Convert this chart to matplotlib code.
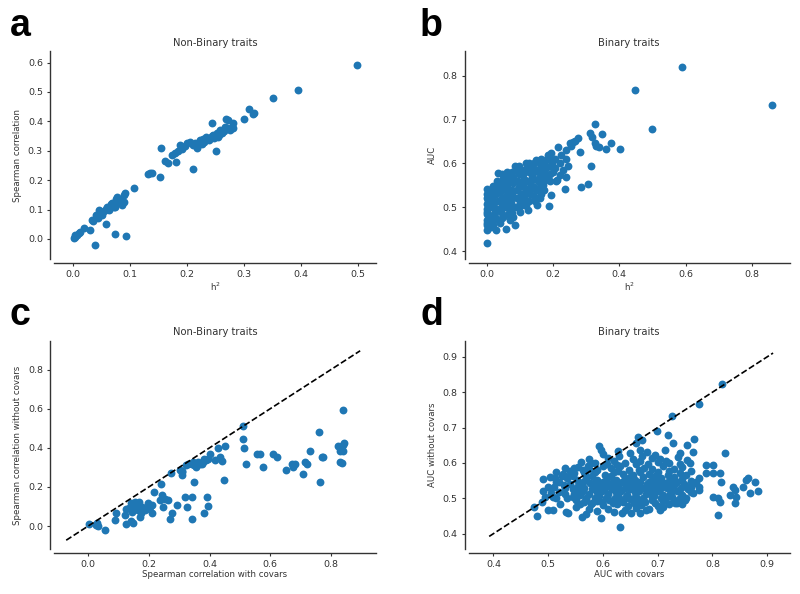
import numpy as np
import matplotlib
matplotlib.use("Agg")
import matplotlib.pyplot as plt

# ---- panel a: non-binary traits, h2 vs spearman correlation
a_pts = [
    (0.004, 0.008), (0.002, 0.002), (0.003, 0.012), (0.010, 0.019), (0.008, 0.015),
    (0.013, 0.024), (0.019, 0.036), (0.030, 0.031), (0.038, -0.022), (0.034, 0.065),
    (0.036, 0.060), (0.042, 0.076), (0.045, 0.099), (0.048, 0.088), (0.051, 0.082),
    (0.044, 0.070), (0.058, 0.051), (0.060, 0.110), (0.055, 0.095), (0.063, 0.100),
    (0.068, 0.121), (0.065, 0.104), (0.070, 0.115), (0.074, 0.110), (0.078, 0.144),
    (0.075, 0.135), (0.083, 0.133), (0.080, 0.125), (0.090, 0.127), (0.092, 0.155),
    (0.089, 0.148), (0.086, 0.116), (0.074, 0.016), (0.093, 0.011), (0.107, 0.174),
    (0.050, 0.090), (0.058, 0.102), (0.066, 0.118), (0.072, 0.108), (0.040, 0.082),
    (0.132, 0.221), (0.135, 0.223), (0.139, 0.224), (0.152, 0.212), (0.155, 0.310),
    (0.161, 0.265), (0.166, 0.260), (0.181, 0.262), (0.173, 0.285), (0.179, 0.291),
    (0.187, 0.319), (0.191, 0.305), (0.200, 0.325), (0.211, 0.238), (0.214, 0.325),
    (0.217, 0.308), (0.223, 0.336), (0.226, 0.322), (0.230, 0.330), (0.234, 0.348),
    (0.238, 0.335), (0.243, 0.393), (0.251, 0.299), (0.246, 0.353), (0.252, 0.359),
    (0.255, 0.348), (0.258, 0.370), (0.262, 0.362), (0.268, 0.408), (0.272, 0.404),
    (0.270, 0.376), (0.275, 0.372), (0.278, 0.382), (0.281, 0.393), (0.280, 0.378),
    (0.300, 0.408), (0.309, 0.442), (0.315, 0.425), (0.318, 0.428), (0.351, 0.481),
    (0.395, 0.508), (0.497, 0.593), (0.196, 0.315), (0.205, 0.330), (0.219, 0.320),
    (0.228, 0.340), (0.240, 0.342), (0.248, 0.345), (0.256, 0.355), (0.264, 0.368),
    (0.184, 0.300), (0.210, 0.318), (0.232, 0.338), (0.244, 0.350), (0.266, 0.380),
]

# ---- panel b: binary traits, h2 vs AUC
b_pts = [
    (0.0, 0.418), (0.0, 0.449), (0.0, 0.460), (0.0, 0.472), (0.0, 0.485), (0.0, 0.497),
    (0.0, 0.508), (0.0, 0.520), (0.0, 0.531), (0.0, 0.542), (0.002, 0.490), (0.003, 0.515),
    (0.004, 0.528), (0.002, 0.465), (0.012, 0.455), (0.015, 0.470), (0.010, 0.500),
    (0.014, 0.520), (0.018, 0.535), (0.020, 0.548), (0.025, 0.490), (0.022, 0.510),
    (0.028, 0.530), (0.030, 0.560), (0.029, 0.449), (0.034, 0.578), (0.026, 0.478),
    (0.039, 0.464), (0.042, 0.490), (0.045, 0.510), (0.040, 0.535), (0.048, 0.550),
    (0.050, 0.565), (0.055, 0.500), (0.058, 0.525), (0.060, 0.545), (0.057, 0.450),
    (0.069, 0.471), (0.062, 0.580), (0.052, 0.480), (0.070, 0.490), (0.072, 0.510),
    (0.075, 0.530), (0.078, 0.555), (0.080, 0.570), (0.085, 0.593), (0.085, 0.459),
    (0.080, 0.478), (0.088, 0.500), (0.090, 0.520), (0.090, 0.540), (0.095, 0.560),
    (0.092, 0.588), (0.100, 0.490), (0.102, 0.510), (0.105, 0.530), (0.108, 0.550),
    (0.110, 0.575), (0.120, 0.600), (0.112, 0.520), (0.118, 0.560), (0.120, 0.505),
    (0.120, 0.540), (0.125, 0.493), (0.122, 0.590), (0.130, 0.530), (0.135, 0.550),
    (0.138, 0.570), (0.140, 0.590), (0.145, 0.515), (0.150, 0.540), (0.152, 0.506),
    (0.155, 0.560), (0.158, 0.580), (0.160, 0.600), (0.150, 0.608), (0.165, 0.530),
    (0.170, 0.550), (0.175, 0.570), (0.178, 0.590), (0.182, 0.610), (0.185, 0.620),
    (0.190, 0.560), (0.195, 0.528), (0.187, 0.503), (0.200, 0.580), (0.198, 0.600),
    (0.195, 0.623), (0.210, 0.560), (0.215, 0.638), (0.220, 0.600), (0.225, 0.620),
    (0.230, 0.585), (0.235, 0.541), (0.238, 0.610), (0.240, 0.630), (0.245, 0.593),
    (0.250, 0.646), (0.255, 0.640), (0.260, 0.648), (0.265, 0.650), (0.275, 0.657),
    (0.281, 0.627), (0.284, 0.546), (0.240, 0.570), (0.213, 0.563), (0.220, 0.574),
    (0.307, 0.553), (0.316, 0.593), (0.313, 0.669), (0.318, 0.660), (0.326, 0.690),
    (0.326, 0.646), (0.331, 0.640), (0.340, 0.638), (0.348, 0.666), (0.360, 0.633),
    (0.374, 0.647), (0.403, 0.633), (0.448, 0.767), (0.498, 0.679), (0.590, 0.820),
    (0.861, 0.732),
    # dense part of the cloud
    (0.006, 0.478), (0.006, 0.503), (0.006, 0.537), (0.018, 0.460), (0.018, 0.482),
    (0.018, 0.500), (0.018, 0.515), (0.018, 0.525), (0.033, 0.470), (0.033, 0.495),
    (0.033, 0.515), (0.033, 0.540), (0.033, 0.552), (0.047, 0.475), (0.047, 0.500),
    (0.047, 0.520), (0.047, 0.540), (0.047, 0.560), (0.047, 0.575), (0.063, 0.485),
    (0.063, 0.500), (0.063, 0.515), (0.063, 0.535), (0.063, 0.555), (0.063, 0.570),
    (0.077, 0.487), (0.077, 0.500), (0.077, 0.520), (0.077, 0.540), (0.077, 0.565),
    (0.077, 0.580), (0.097, 0.500), (0.097, 0.522), (0.097, 0.545), (0.097, 0.575),
    (0.097, 0.595), (0.113, 0.505), (0.113, 0.530), (0.113, 0.545), (0.113, 0.565),
    (0.113, 0.585), (0.128, 0.515), (0.128, 0.540), (0.128, 0.560), (0.128, 0.580),
    (0.128, 0.600), (0.143, 0.525), (0.143, 0.545), (0.143, 0.565), (0.143, 0.580),
    (0.143, 0.600), (0.160, 0.520), (0.160, 0.545), (0.160, 0.570), (0.160, 0.590),
    (0.165, 0.610), (0.172, 0.540), (0.172, 0.560), (0.172, 0.580), (0.172, 0.600),
    (0.190, 0.575), (0.190, 0.595), (0.190, 0.610), (0.205, 0.590), (0.205, 0.610),
]

# ---- panel c: non-binary traits, with vs without covariates
c_pts = [
    (0.003, 0.010), (0.031, 0.014), (0.033, 0.000), (0.027, 0.005), (0.056, -0.020),
    (0.093, 0.065), (0.090, 0.031), (0.124, 0.009), (0.121, 0.056), (0.126, 0.087),
    (0.140, 0.116), (0.146, 0.073), (0.148, 0.017), (0.141, 0.027), (0.154, 0.124),
    (0.159, 0.107), (0.165, 0.082), (0.168, 0.121), (0.170, 0.048), (0.176, 0.065),
    (0.187, 0.082), (0.198, 0.116), (0.203, 0.099), (0.212, 0.068), (0.209, 0.107),
    (0.216, 0.175), (0.236, 0.133), (0.239, 0.213), (0.245, 0.158), (0.247, 0.099),
    (0.253, 0.141), (0.264, 0.136), (0.271, 0.036), (0.278, 0.065), (0.274, 0.269),
    (0.293, 0.107), (0.302, 0.286), (0.311, 0.277), (0.311, 0.260), (0.320, 0.150),
    (0.326, 0.099), (0.341, 0.150), (0.343, 0.036), (0.348, 0.226), (0.324, 0.312),
    (0.341, 0.320), (0.357, 0.303), (0.363, 0.329), (0.374, 0.320), (0.381, 0.342),
    (0.387, 0.337), (0.382, 0.065), (0.393, 0.150), (0.396, 0.102), (0.401, 0.366),
    (0.418, 0.337), (0.429, 0.397), (0.434, 0.354), (0.440, 0.332), (0.451, 0.409),
    (0.447, 0.235), (0.511, 0.511), (0.511, 0.443), (0.514, 0.400), (0.520, 0.320),
    (0.557, 0.366), (0.566, 0.366), (0.577, 0.300), (0.608, 0.371), (0.621, 0.354),
    (0.652, 0.289), (0.670, 0.320), (0.676, 0.303), (0.680, 0.318), (0.707, 0.264),
    (0.714, 0.329), (0.720, 0.315), (0.731, 0.383), (0.762, 0.482), (0.764, 0.226),
    (0.769, 0.354), (0.775, 0.352), (0.822, 0.409), (0.830, 0.385), (0.830, 0.329),
    (0.838, 0.592), (0.841, 0.414), (0.844, 0.426), (0.838, 0.385), (0.830, 0.397),
    (0.835, 0.325), (0.150, 0.095), (0.158, 0.088), (0.162, 0.112), (0.178, 0.100),
    (0.135, 0.095), (0.145, 0.108), (0.192, 0.090), (0.330, 0.318), (0.350, 0.310),
    (0.368, 0.315), (0.378, 0.330), (0.308, 0.283), (0.345, 0.328), (0.395, 0.345),
]

# ---- panel d: binary traits, with vs without covariates
d_pts = [
    (0.817, 0.823), (0.775, 0.768), (0.726, 0.732), (0.698, 0.691), (0.664, 0.674),
    (0.672, 0.666), (0.719, 0.680), (0.766, 0.669), (0.753, 0.650), (0.728, 0.655),
    (0.823, 0.627), (0.765, 0.632), (0.593, 0.648), (0.597, 0.638), (0.627, 0.633),
    (0.661, 0.655), (0.667, 0.636), (0.695, 0.622), (0.713, 0.636), (0.741, 0.627),
    (0.801, 0.594), (0.789, 0.594), (0.801, 0.571), (0.813, 0.571), (0.816, 0.547),
    (0.789, 0.571), (0.775, 0.556), (0.801, 0.504), (0.810, 0.500), (0.813, 0.490),
    (0.810, 0.453), (0.832, 0.509), (0.838, 0.533), (0.841, 0.524), (0.842, 0.486),
    (0.844, 0.505), (0.862, 0.552), (0.865, 0.557), (0.856, 0.533), (0.877, 0.547),
    (0.883, 0.522), (0.868, 0.514), (0.765, 0.514), (0.775, 0.523), (0.775, 0.533),
    (0.769, 0.542), (0.750, 0.495), (0.731, 0.486), (0.722, 0.542), (0.759, 0.599),
    (0.753, 0.608), (0.737, 0.617), (0.474, 0.476), (0.479, 0.451), (0.488, 0.490),
    (0.500, 0.533), (0.503, 0.561), (0.512, 0.556), (0.527, 0.570), (0.539, 0.566),
    (0.509, 0.467), (0.500, 0.467), (0.509, 0.504), (0.521, 0.485), (0.533, 0.462),
    (0.536, 0.457), (0.561, 0.448), (0.597, 0.445), (0.632, 0.420), (0.620, 0.462),
    (0.564, 0.580), (0.579, 0.599), (0.546, 0.504), (0.558, 0.485), (0.579, 0.485),
    (0.594, 0.523), (0.634, 0.458), (0.652, 0.458), (0.667, 0.458), (0.704, 0.467),
    (0.679, 0.467), (0.520, 0.545), (0.530, 0.528),
    # dense core
    (0.555, 0.588), (0.575, 0.582), (0.600, 0.590), (0.615, 0.585), (0.632, 0.592),
    (0.648, 0.580), (0.660, 0.597), (0.675, 0.586), (0.690, 0.583), (0.710, 0.592),
    (0.730, 0.584), (0.548, 0.572), (0.567, 0.568), (0.585, 0.574), (0.603, 0.566),
    (0.620, 0.575), (0.637, 0.570), (0.655, 0.565), (0.668, 0.573), (0.684, 0.569),
    (0.700, 0.574), (0.718, 0.566), (0.740, 0.572), (0.752, 0.565), (0.535, 0.556),
    (0.552, 0.552), (0.570, 0.557), (0.590, 0.553), (0.607, 0.558), (0.623, 0.551),
    (0.641, 0.556), (0.658, 0.552), (0.674, 0.559), (0.690, 0.553), (0.706, 0.556),
    (0.722, 0.550), (0.745, 0.555), (0.760, 0.548), (0.540, 0.540), (0.560, 0.538),
    (0.577, 0.543), (0.595, 0.537), (0.612, 0.541), (0.628, 0.536), (0.646, 0.543),
    (0.662, 0.538), (0.680, 0.540), (0.695, 0.536), (0.712, 0.542), (0.730, 0.538),
    (0.748, 0.541), (0.545, 0.525), (0.563, 0.522), (0.580, 0.527), (0.598, 0.521),
    (0.616, 0.526), (0.633, 0.522), (0.650, 0.527), (0.666, 0.521), (0.683, 0.525),
    (0.700, 0.522), (0.717, 0.528), (0.735, 0.520), (0.755, 0.526), (0.558, 0.508),
    (0.575, 0.511), (0.592, 0.506), (0.610, 0.512), (0.627, 0.507), (0.644, 0.510),
    (0.661, 0.505), (0.678, 0.511), (0.694, 0.507), (0.710, 0.510), (0.727, 0.504),
    (0.745, 0.509), (0.550, 0.494), (0.570, 0.497), (0.590, 0.492), (0.612, 0.496),
    (0.630, 0.491), (0.650, 0.497), (0.668, 0.493), (0.690, 0.496), (0.710, 0.491),
    (0.730, 0.495), (0.600, 0.480), (0.625, 0.483), (0.645, 0.478), (0.670, 0.482),
    (0.700, 0.479), (0.720, 0.484), (0.640, 0.600), (0.655, 0.610), (0.620, 0.605),
    (0.700, 0.604), (0.690, 0.615), (0.672, 0.620), (0.585, 0.600), (0.610, 0.615),
    (0.540, 0.578), (0.565, 0.575), (0.590, 0.580), (0.628, 0.578), (0.665, 0.580),
    (0.720, 0.578), (0.760, 0.576), (0.525, 0.562), (0.580, 0.562), (0.615, 0.562),
    (0.650, 0.560), (0.695, 0.562), (0.730, 0.560), (0.515, 0.547), (0.563, 0.547),
    (0.600, 0.547), (0.635, 0.547), (0.668, 0.547), (0.700, 0.547), (0.735, 0.547),
    (0.770, 0.545), (0.510, 0.532), (0.553, 0.532), (0.588, 0.532), (0.622, 0.532),
    (0.656, 0.532), (0.690, 0.532), (0.724, 0.532), (0.760, 0.533), (0.520, 0.517),
    (0.557, 0.517), (0.590, 0.517), (0.624, 0.517), (0.658, 0.517), (0.690, 0.517),
    (0.725, 0.517), (0.760, 0.517), (0.535, 0.502), (0.570, 0.502), (0.606, 0.502),
    (0.640, 0.502), (0.673, 0.502), (0.706, 0.502), (0.740, 0.502), (0.580, 0.487),
    (0.618, 0.487), (0.656, 0.487), (0.695, 0.487), (0.735, 0.487), (0.560, 0.602),
    (0.575, 0.610), (0.630, 0.620), (0.650, 0.628), (0.680, 0.630), (0.705, 0.612),
    (0.720, 0.600), (0.740, 0.598), (0.600, 0.625), (0.530, 0.585), (0.515, 0.575),
    (0.490, 0.555), (0.490, 0.520), (0.495, 0.505), (0.505, 0.515), (0.515, 0.500),
    (0.550, 0.475), (0.575, 0.470), (0.590, 0.465), (0.610, 0.470), (0.640, 0.468),
    (0.660, 0.472), (0.685, 0.470), (0.710, 0.475), (0.745, 0.485), (0.570, 0.456),
    (0.548, 0.585), (0.572, 0.592), (0.607, 0.598), (0.625, 0.595), (0.668, 0.605),
    (0.682, 0.598), (0.715, 0.605), (0.745, 0.588), (0.528, 0.538), (0.546, 0.562),
    (0.585, 0.545), (0.618, 0.545), (0.652, 0.545), (0.685, 0.545), (0.718, 0.545),
    (0.752, 0.535), (0.530, 0.512), (0.566, 0.530), (0.604, 0.530), (0.640, 0.530),
    (0.673, 0.530), (0.707, 0.530), (0.742, 0.530), (0.548, 0.512), (0.585, 0.500),
    (0.622, 0.500), (0.657, 0.500), (0.690, 0.505), (0.722, 0.512), (0.565, 0.490),
    (0.598, 0.490), (0.637, 0.490), (0.676, 0.490), (0.715, 0.500), (0.752, 0.500),
]

titles = ["Non-Binary traits", "Binary traits", "Non-Binary traits", "Binary traits"]
xlabels = [r"h$^2$", r"h$^2$", "Spearman correlation with covars", "AUC with covars"]
ylabels = ["Spearman correlation", "AUC", "Spearman correlation without covars",
           "AUC without covars"]
letters = ["a", "b", "c", "d"]

blue = "#1f77b4"
grey = "#333333"

fig = plt.figure(figsize=(8, 5.94), dpi=100)

# axes boxes (left, bottom, width, height) in figure fractions
boxes = [
    [0.0675, 0.564, 0.4025, 0.350],
    [0.586, 0.564, 0.401, 0.350],
    [0.0675, 0.076, 0.4025, 0.350],
    [0.586, 0.076, 0.401, 0.350],
]
xlims = [(-0.033, 0.531), (-0.054, 0.914), (-0.112, 0.948), (0.355, 0.941)]
ylims = [(-0.068, 0.639), (0.382, 0.856), (-0.116, 0.946), (0.357, 0.945)]
xticks = [np.arange(0, 0.51, 0.1), np.arange(0, 0.81, 0.2),
          np.arange(0, 0.81, 0.2), np.arange(0.4, 0.91, 0.1)]
yticks = [np.arange(0, 0.61, 0.1), np.arange(0.4, 0.81, 0.1),
          np.arange(0, 0.81, 0.2), np.arange(0.4, 0.91, 0.1)]
letter_pos = [(0.012, 0.94), (0.525, 0.94), (0.012, 0.453), (0.525, 0.453)]

all_pts = [a_pts, b_pts, c_pts, d_pts]

for i in range(4):
    ax = fig.add_axes(boxes[i])
    pts = np.array(all_pts[i])
    ax.scatter(pts[:, 0], pts[:, 1], s=32, color=blue, linewidths=0, zorder=2)

    if i >= 2:
        lo = pts.min()
        hi = pts.max()
        pad = 0.06 * (hi - lo)
        ax.plot([lo - pad, hi + pad], [lo - pad, hi + pad], ls="--", color="black",
                lw=1.2, zorder=3)

    ax.set_xlim(*xlims[i])
    ax.set_ylim(*ylims[i])
    ax.set_xticks(xticks[i])
    ax.set_yticks(yticks[i])
    ax.set_xticklabels([f"{t:.1f}" for t in xticks[i]])
    ax.set_yticklabels([f"{t:.1f}" for t in yticks[i]])

    for s in ["top", "right"]:
        ax.spines[s].set_visible(False)
    for s in ["left", "bottom"]:
        ax.spines[s].set_position(("outward", 3))
        ax.spines[s].set_color(grey)
        ax.spines[s].set_linewidth(1.0)
    ax.tick_params(axis="both", length=2.5, width=0.8, color=grey, pad=2.5,
                   labelsize=6.8, labelcolor=grey)

    ax.set_title(titles[i], fontsize=7.2, color=grey, pad=4)
    ax.set_xlabel(xlabels[i], fontsize=6.2, color=grey, labelpad=1)
    ax.set_ylabel(ylabels[i], fontsize=6.2, color=grey, labelpad=4)

    fig.text(letter_pos[i][0], letter_pos[i][1], letters[i], fontsize=27,
             fontweight="bold", family="Liberation Sans", color="black")

fig.savefig("out.png", dpi=100)
